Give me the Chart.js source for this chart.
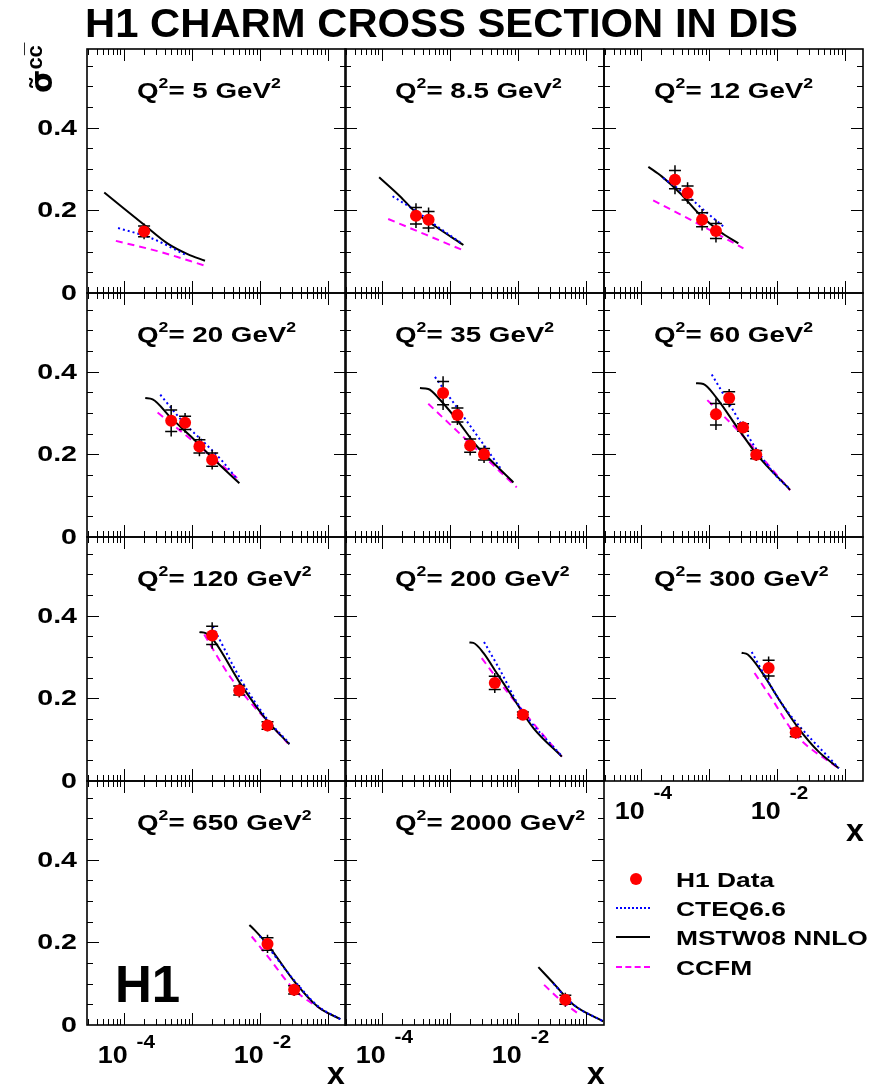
<!DOCTYPE html>
<html><head><meta charset="utf-8">
<script src="https://cdn.jsdelivr.net/npm/chart.js@4/dist/chart.umd.min.js"></script>
<style>
html,body{margin:0;padding:0;background:#fff;}
#wrap{position:relative;width:872px;height:1086px;overflow:hidden;font-family:"Liberation Sans",Arial,Helvetica,sans-serif;font-weight:bold;color:#000;}
canvas{position:absolute;left:0;top:0;}
.t{position:absolute;white-space:nowrap;transform-origin:0 0;line-height:1;}
.sup{position:relative;}
</style></head><body><div id="wrap"></div>
<script>
// ---------------- DATA ----------------
const q2Labels = ["5","8.5","12","20","35","60","120","200","300","650","2000"];
const yTickValues = [0, 0.2, 0.4];
const yTickLabels = ["0", "0.2", "0.4"];
const xTickValues = [1e-4, 1e-2];
const xTickExponents = ["-4", "-2"];

// H1 data points per panel
const dataX = [
  [2.0e-4],
  [3.2e-4, 4.9e-4],
  [3.2e-4, 4.9e-4, 8.0e-4, 1.28e-3],
  [5.0e-4, 8.0e-4, 1.3e-3, 2.0e-3],
  [8.0e-4, 1.3e-3, 2.0e-3, 3.2e-3],
  [1.28e-3, 2.0e-3, 3.2e-3, 5.0e-3],
  [2.0e-3, 5.0e-3, 1.3e-2],
  [4.6e-3, 1.19e-2],
  [7.6e-3, 1.9e-2],
  [1.3e-2, 3.2e-2],
  [5.0e-2]
];
const dataY = [
  [0.149],
  [0.187, 0.177],
  [0.274, 0.242, 0.177, 0.150],
  [0.281, 0.276, 0.219, 0.187],
  [0.348, 0.295, 0.221, 0.200],
  [0.297, 0.336, 0.265, 0.199],
  [0.352, 0.219, 0.134],
  [0.237, 0.160],
  [0.273, 0.117],
  [0.196, 0.085],
  [0.061]
];
const dataErrTot = [
  [0.019],
  [0.030, 0.030],
  [0.035, 0.026, 0.026, 0.028],
  [0.038, 0.024, 0.024, 0.024],
  [0.041, 0.024, 0.024, 0.021],
  [0.038, 0.022, 0.014, 0.015],
  [0.032, 0.017, 0.014],
  [0.024, 0.011],
  [0.028, 0.015],
  [0.022, 0.015],
  [0.017]
];
const dataErrStat = [
  [0.013],
  [0.020, 0.020],
  [0.022, 0.017, 0.017, 0.018],
  [0.026, 0.016, 0.016, 0.016],
  [0.028, 0.017, 0.016, 0.014],
  [0.026, 0.015, 0.009, 0.010],
  [0.022, 0.011, 0.009],
  [0.016, 0.007],
  [0.019, 0.010],
  [0.015, 0.010],
  [0.011]
];

// theory curves [x, sigma]
const mstwCurves = [
  [[5.2e-5,0.243],[1.0e-4,0.205],[2.0e-4,0.165],[4.4e-4,0.120],[8.7e-4,0.094],[1.57e-3,0.078]],
  [[9.2e-5,0.280],[1.86e-4,0.234],[3.27e-4,0.193],[6.44e-4,0.159],[1.59e-3,0.116]],
  [[1.3e-4,0.305],[2.04e-4,0.282],[3.78e-4,0.242],[7.46e-4,0.189],[1.47e-3,0.148],[2.73e-3,0.120]],
  [[2.08e-4,0.336],[2.67e-4,0.333],[4.97e-4,0.288],[9.77e-4,0.243],[2.15e-3,0.187],[5.02e-3,0.130]],
  [[3.66e-4,0.360],[4.85e-4,0.358],[7.21e-4,0.332],[1.27e-3,0.284],[2.49e-3,0.220],[3.71e-3,0.191],[8.63e-3,0.132]],
  [[6.52e-4,0.372],[8.36e-4,0.370],[1.31e-3,0.336],[2.58e-3,0.267],[5.08e-3,0.200],[1.57e-2,0.114]],
  [[1.3e-3,0.360],[1.63e-3,0.357],[2.15e-3,0.338],[5.31e-3,0.233],[1.31e-2,0.144],[2.73e-2,0.089]],
  [[1.95e-3,0.335],[2.23e-3,0.334],[3.13e-3,0.310],[4.91e-3,0.261],[8.63e-3,0.200],[1.7e-2,0.128],[4.44e-2,0.059]],
  [[3.05e-3,0.310],[3.75e-3,0.306],[5.94e-3,0.265],[1.05e-2,0.200],[2.08e-2,0.128],[4.12e-2,0.071],[8.17e-2,0.031]],
  [[7.05e-3,0.242],[8.36e-3,0.230],[1.31e-2,0.194],[3.24e-2,0.105],[7.13e-2,0.044],[1.53e-1,0.014]],
  [[2.01e-2,0.140],[3.35e-2,0.101],[6.59e-2,0.049],[1.8e-1,0.009]]
];
const cteqCurves = [
  [[8.3e-5,0.157],[2.52e-4,0.133],[8.2e-4,0.092]],
  [[1.45e-4,0.234],[3.27e-4,0.197],[6.44e-4,0.162],[1.5e-3,0.120]],
  [[2.15e-4,0.278],[4.47e-4,0.240],[9.3e-4,0.195],[1.64e-3,0.161]],
  [[3.46e-4,0.344],[6.97e-4,0.284],[2.7e-3,0.187],[4.74e-3,0.138]],
  [[6.08e-4,0.387],[1.88e-3,0.275],[5.82e-3,0.162]],
  [[1.11e-3,0.393],[2.31e-3,0.305],[5.08e-3,0.211],[1.0e-2,0.146],[1.57e-2,0.116]],
  [[2.04e-3,0.374],[5.37e-3,0.243],[1.31e-2,0.148],[2.73e-2,0.091]],
  [[3.2e-3,0.336],[5.5e-3,0.268],[1.08e-2,0.178],[4.44e-2,0.060]],
  [[4.29e-3,0.312],[7.45e-3,0.241],[1.41e-2,0.170],[8.17e-2,0.031]],
  [[1.0e-2,0.215],[3.24e-2,0.107],[7.13e-2,0.046],[1.53e-1,0.014]],
  [[3.35e-2,0.100],[6.59e-2,0.049],[1.8e-1,0.009]]
];
const ccfmCurves = [
  [[7.7e-5,0.126],[3.54e-4,0.099],[1.57e-3,0.066]],
  [[1.25e-4,0.179],[4.47e-4,0.141],[1.59e-3,0.103]],
  [[1.53e-4,0.224],[7.46e-4,0.165],[3.24e-3,0.108]],
  [[3.16e-4,0.301],[1.22e-3,0.223],[5.02e-3,0.138]],
  [[4.85e-4,0.322],[2.23e-3,0.219],[9.66e-3,0.120]],
  [[9.55e-4,0.331],[2.89e-3,0.252],[1.57e-2,0.113]],
  [[1.53e-3,0.354],[3.78e-3,0.249],[2.58e-2,0.091]],
  [[2.96e-3,0.297],[6.89e-3,0.217],[2.13e-2,0.120],[4.44e-2,0.059]],
  [[4.72e-3,0.261],[8.36e-3,0.200],[1.85e-2,0.114],[8.17e-2,0.030]],
  [[7.62e-3,0.214],[1.31e-2,0.166],[3.24e-2,0.085],[1.0e-1,0.028]],
  [[2.44e-2,0.097],[4.2e-2,0.061],[8.26e-2,0.024]]
];

// ---------------- LAYOUT ----------------
const W = 872, H = 1086;
const panelLefts = [87, 345, 604];
const panelTops = [49, 293, 537, 781];
const PW = 259, PH = 244;
const XMIN = 2.9e-5, XMAX = 0.185, YMAX = 0.59;
const xLabelPanels = [8, 9, 10];

const wrap = document.getElementById('wrap');

function toXY(arr){ return arr.map(p => ({x:p[0], y:p[1]})); }

const axesPlugin = {
  id: 'rootAxes',
  beforeDatasetDraw(chart, args){
    if (args.index !== 0) return;
    const i = chart.options.plugins.rootAxes.panel;
    const ctx = chart.ctx, xs = chart.scales.x, ys = chart.scales.y;
    ctx.save();
    ctx.strokeStyle = '#000'; ctx.lineWidth = 1.5;
    dataX[i].forEach((xv, j) => {
      const px = xs.getPixelForValue(xv);
      const v = dataY[i][j], t = dataErrTot[i][j], s = dataErrStat[i][j];
      ctx.beginPath();
      ctx.moveTo(px, ys.getPixelForValue(v - t));
      ctx.lineTo(px, ys.getPixelForValue(v + t));
      [v - s, v + s].forEach(e => {
        const py = ys.getPixelForValue(e);
        ctx.moveTo(px - 6, py); ctx.lineTo(px + 6, py);
      });
      ctx.stroke();
    });
    ctx.restore();
  },
  afterDraw(chart){
    const i = chart.options.plugins.rootAxes.panel;
    const col = i % 3;
    const ctx = chart.ctx, xs = chart.scales.x, ys = chart.scales.y;
    const {left, right, top, bottom} = chart.chartArea;
    ctx.save();
    ctx.strokeStyle = '#000';
    ctx.lineWidth = 1;
    ctx.beginPath();
    for (let e = -5; e <= -1; e++) {
      for (let m = 1; m <= 9; m++) {
        const v = m * Math.pow(10, e);
        if (v <= XMIN || v >= XMAX) continue;
        const px = Math.round(xs.getPixelForValue(v)) + 0.5;
        const L = m === 1 ? 12 : 6;
        ctx.moveTo(px, bottom); ctx.lineTo(px, bottom - L);
        ctx.moveTo(px, top); ctx.lineTo(px, top + L);
      }
    }
    for (let k = 1; k <= 11; k++) {
      const v = k * 0.05;
      const py = Math.round(ys.getPixelForValue(v)) + 0.5;
      const L = (k % 4 === 0) ? 12 : 6;
      ctx.moveTo(left, py); ctx.lineTo(left + L, py);
      ctx.moveTo(right, py); ctx.lineTo(right - L, py);
    }
    ctx.stroke();
    ctx.lineWidth = 1.6;
    ctx.strokeRect(left, top, right - left, bottom - top);
    ctx.fillStyle = '#000';
    if (col === 0) {
      ctx.font = 'bold 22px "Liberation Sans", Arial, sans-serif';
      ctx.textAlign = 'right'; ctx.textBaseline = 'middle';
      yTickValues.forEach((v, k) => {
        const py = ys.getPixelForValue(v);
        ctx.save(); ctx.translate(left - 10, py + 1); ctx.scale(1.3, 1);
        ctx.fillText(yTickLabels[k], 0, 0); ctx.restore();
      });
    }
    if (xLabelPanels.includes(i)) {
      xTickValues.forEach((v, k) => {
        const px = xs.getPixelForValue(v);
        ctx.save();
        ctx.textBaseline = 'alphabetic';
        ctx.font = 'bold 24px "Liberation Sans", Arial, sans-serif';
        ctx.textAlign = 'right';
        ctx.translate(px + 4, bottom + 38); ctx.scale(1.12, 1);
        ctx.fillText('10', 0, 0);
        ctx.restore();
        ctx.save();
        ctx.font = 'bold 18px "Liberation Sans", Arial, sans-serif';
        ctx.textAlign = 'left';
        ctx.translate(px + 13, bottom + 18); ctx.scale(1.15, 1);
        ctx.fillText(xTickExponents[k], 0, 0);
        ctx.restore();
      });
    }
    ctx.restore();
  }
};

q2Labels.forEach((q, i) => {
  const col = i % 3, row = Math.floor(i / 3);
  const L = panelLefts[col], T = panelTops[row];
  const cv = document.createElement('canvas');
  cv.width = W; cv.height = H;
  wrap.appendChild(cv);
  new Chart(cv, {
    type: 'line',
    data: { datasets: [
      { label: 'H1 Data', data: toXY(dataX[i].map((x, j) => [x, dataY[i][j]])), showLine: false,
        pointRadius: 6, pointBackgroundColor: '#ff0000', pointBorderWidth: 0, pointBorderColor: '#ff0000', order: 0 },
      { label: 'CTEQ6.6', data: toXY(cteqCurves[i]), borderColor: '#0000ff', borderWidth: 2, borderDash: [2, 3],
        pointRadius: 0, cubicInterpolationMode: 'monotone', fill: false, order: 1 },
      { label: 'MSTW08 NNLO', data: toXY(mstwCurves[i]), borderColor: '#000000', borderWidth: 2,
        pointRadius: 0, cubicInterpolationMode: 'monotone', fill: false, order: 2 },
      { label: 'CCFM', data: toXY(ccfmCurves[i]), borderColor: '#ff00ff', borderWidth: 2, borderDash: [7, 5],
        pointRadius: 0, cubicInterpolationMode: 'monotone', fill: false, order: 3 }
    ]},
    options: {
      responsive: false, animation: false, devicePixelRatio: 1, events: [],
      layout: { padding: { left: L, top: T, right: W - L - PW, bottom: H - T - PH } },
      plugins: { legend: { display: false }, tooltip: { enabled: false }, rootAxes: { panel: i } },
      scales: {
        x: { type: 'logarithmic', min: XMIN, max: XMAX, display: false },
        y: { type: 'linear', min: 0, max: YMAX, display: false }
      }
    },
    plugins: [axesPlugin]
  });
});

// ---------------- TEXT ----------------
function addText(html, left, baseline, fs, sx, extra){
  const d = document.createElement('div');
  d.className = 't';
  d.innerHTML = html;
  d.style.left = left + 'px';
  d.style.top = (baseline - 0.8465 * fs) + 'px';
  d.style.fontSize = fs + 'px';
  d.style.transform = 'scaleX(' + sx + ')';
  if (extra) Object.assign(d.style, extra);
  wrap.appendChild(d);
  return d;
}
const sup2 = '<span class="sup" style="font-size:14px;top:-10px">2</span>';
q2Labels.forEach((q, i) => {
  const col = i % 3, row = Math.floor(i / 3);
  addText('Q' + sup2 + '= ' + q + ' GeV' + sup2, panelLefts[col] + 50, panelTops[row] + 50, 22, 1.26);
});
addText('H1 CHARM CROSS SECTION IN DIS', 85, 37, 40, 1.045);
addText('H1', 115, 1001.7, 51, 1.0);
addText('x', 327, 1084, 32, 1.0);
addText('x', 587, 1084, 32, 1.0);
addText('x', 846, 841, 32, 1.0);

// y-axis title (rotated)
const yt = document.createElement('div');
yt.className = 't';
yt.style.left = '27px'; yt.style.top = '93px';
yt.style.transform = 'rotate(-90deg)';
yt.style.fontWeight = 'bold';
yt.innerHTML = '<span style="font-size:30px;font-family:\'DejaVu Sans\'">σ\u0303</span><span class="sup" style="font-size:22px;top:-10px">cc\u0305</span>';
wrap.appendChild(yt);

// legend
const legNames = ['H1 Data', 'CTEQ6.6', 'MSTW08 NNLO', 'CCFM'];
const legBase = [886.7, 916, 945, 975];
legNames.forEach((n, k) => addText(n, 676, legBase[k], 21, 1.255));
function addEl(style){ const e = document.createElement('div'); e.style.position = 'absolute'; Object.assign(e.style, style); wrap.appendChild(e); }
addEl({left:'630px', top:'873px', width:'12px', height:'12px', borderRadius:'50%', background:'#ff0000'});
addEl({left:'616px', top:'907px', width:'34px', height:'0', borderTop:'2px dotted #0000ff'});
addEl({left:'616px', top:'936px', width:'34px', height:'0', borderTop:'2px solid #000'});
addEl({left:'616px', top:'966px', width:'34px', height:'0', borderTop:'2px dashed #ff00ff'});
</script></body></html>
